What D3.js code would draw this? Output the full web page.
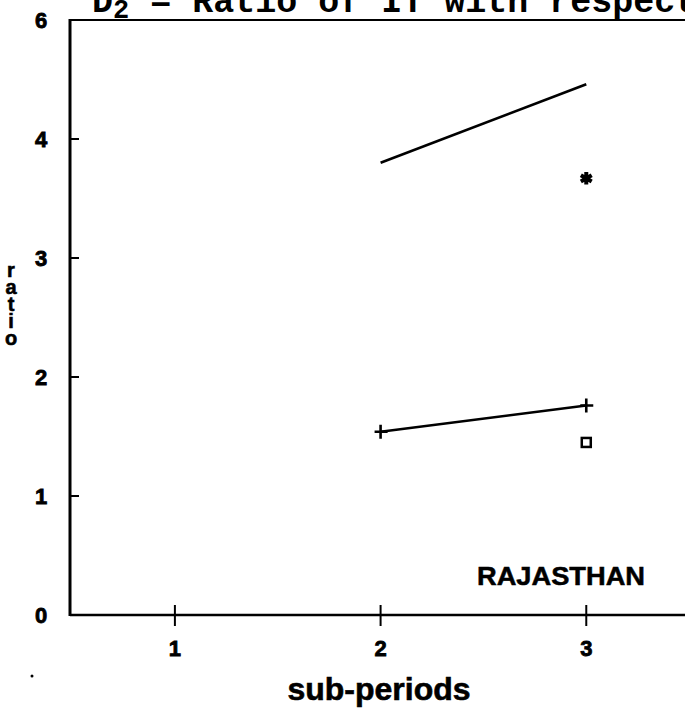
<!DOCTYPE html>
<html><head><meta charset="utf-8">
<script src="https://cdn.jsdelivr.net/npm/d3@7"></script>
<style>html,body{margin:0;padding:0;background:#fff;}svg{display:block;}</style>
</head><body>
<script>
// ---- data ----
const periods = [2, 3];
const lineUpper = [3.80, 4.46];          // unmarked line
const linePlus = [1.54, 1.76];           // line with + markers
const starPoint = [{x: 3, y: 3.67}];     // asterisk
const squarePoint = [{x: 3, y: 1.45}];   // open square
const xTicks = [1, 2, 3];
const xTickLabels = ["1", "2", "3"];
const yTicks = [0, 1, 2, 3, 4, 5];
const yTickLabels = ["0", "1", "2", "3", "4", "6"];

const W = 685, H = 710;
const svg = d3.select("body").append("svg").attr("width", W).attr("height", H);

const x = d3.scaleLinear().domain([0.49, 3.48]).range([70, 685]);
const y = d3.scaleLinear().domain([0, 5]).range([615, 20]);

const bold = "'Liberation Sans', Arial, sans-serif";

// title (cut off at top)
const t = svg.append("text").attr("x", 92).attr("y", 12)
  .attr("font-family", "'Liberation Mono','Courier New',monospace")
  .attr("font-weight", "bold").attr("font-size", 35).attr("fill", "#000");
t.append("tspan").text("D");
t.append("tspan").attr("font-size", 27).attr("dy", 6).text("2");
t.append("tspan").attr("dy", -6).text(" = Ratio of IT with respect to");

// frame: left axis, bottom axis, top line
svg.append("line").attr("x1", x(0.49)).attr("x2", W).attr("y1", y(5)).attr("y2", y(5))
  .attr("stroke", "#000").attr("stroke-width", 2);
svg.append("line").attr("x1", x(0.49)).attr("x2", x(0.49)).attr("y1", y(5) - 1).attr("y2", y(0) + 1)
  .attr("stroke", "#000").attr("stroke-width", 3);
svg.append("line").attr("x1", x(0.49)).attr("x2", W).attr("y1", y(0)).attr("y2", y(0))
  .attr("stroke", "#000").attr("stroke-width", 2.5);

// y ticks (inward)
svg.selectAll(".yt").data(yTicks.filter(d => d > 0 && d < 5)).enter().append("line")
  .attr("x1", x(0.49)).attr("x2", x(0.49) + 9).attr("y1", d => y(d)).attr("y2", d => y(d))
  .attr("stroke", "#000").attr("stroke-width", 2);
svg.selectAll(".ytl").data(yTicks).enter().append("text")
  .attr("x", 41).attr("y", d => y(d) + 8).attr("text-anchor", "middle")
  .attr("font-family", bold).attr("font-weight", "900").attr("font-size", 22)
  .attr("stroke", "#000").attr("stroke-width", 0.8)
  .text((d, i) => yTickLabels[i]);

// x ticks (crossing)
svg.selectAll(".xt").data(xTicks).enter().append("line")
  .attr("x1", d => x(d)).attr("x2", d => x(d)).attr("y1", y(0) - 10).attr("y2", y(0) + 11)
  .attr("stroke", "#000").attr("stroke-width", 2);
svg.selectAll(".xtl").data(xTicks).enter().append("text")
  .attr("x", d => x(d)).attr("y", 656).attr("text-anchor", "middle")
  .attr("font-family", bold).attr("font-weight", "900").attr("font-size", 22)
  .attr("stroke", "#000").attr("stroke-width", 0.8)
  .text((d, i) => xTickLabels[i]);

// axis titles
svg.append("text").attr("x", 379).attr("y", 700).attr("text-anchor", "middle")
  .attr("font-family", bold).attr("font-weight", "bold").attr("font-size", 32)
  .attr("stroke", "#000").attr("stroke-width", 0.6)
  .text("sub-periods");
const yl = "ratio".split("");
svg.selectAll(".yl").data(yl).enter().append("text")
  .attr("x", 11).attr("y", (d, i) => 277 + i * 17).attr("text-anchor", "middle")
  .attr("font-family", bold).attr("font-weight", "bold").attr("font-size", 20)
  .attr("stroke", "#000").attr("stroke-width", 0.6)
  .text(d => d);

// region label
svg.append("text").attr("x", 561).attr("y", 585).attr("text-anchor", "middle")
  .attr("font-family", bold).attr("font-weight", "bold").attr("font-size", 26)
  .attr("stroke", "#000").attr("stroke-width", 0.5)
  .attr("textLength", 168).attr("lengthAdjust", "spacingAndGlyphs")
  .text("RAJASTHAN");

// stray dot
svg.append("circle").attr("cx", 32).attr("cy", 676).attr("r", 1.5).attr("fill", "#000");

// lines
const lineGen = d3.line().x(d => x(d[0])).y(d => y(d[1]));
svg.append("path").datum(periods.map((p, i) => [p, lineUpper[i]]))
  .attr("d", lineGen).attr("fill", "none").attr("stroke", "#000").attr("stroke-width", 2.6);
const plusData = periods.map((p, i) => [p, linePlus[i]]);
svg.append("path").datum(plusData)
  .attr("d", lineGen).attr("fill", "none").attr("stroke", "#000").attr("stroke-width", 2.6);
svg.selectAll(".plus").data(plusData).enter().append("path")
  .attr("d", d => {
    const cx = x(d[0]), cy = y(d[1]);
    return `M${cx - 6},${cy}H${cx + 7}M${cx},${cy - 7}V${cy + 7}`;
  })
  .attr("stroke", "#000").attr("stroke-width", 2.6).attr("fill", "none");

// asterisk
svg.selectAll(".star").data(starPoint).enter().append("path")
  .attr("d", d3.symbol().type(d3.symbolAsterisk || d3.symbolCross).size(110))
  .attr("transform", d => `translate(${x(d.x)},${y(d.y)})`)
  .attr("stroke", "#000").attr("stroke-width", 4).attr("fill", "#000");

// square
svg.selectAll(".sq").data(squarePoint).enter().append("rect")
  .attr("x", d => x(d.x) - 4.5).attr("y", d => y(d.y) - 4.5)
  .attr("width", 9).attr("height", 9)
  .attr("fill", "none").attr("stroke", "#000").attr("stroke-width", 2.5);
</script>
</body></html>
